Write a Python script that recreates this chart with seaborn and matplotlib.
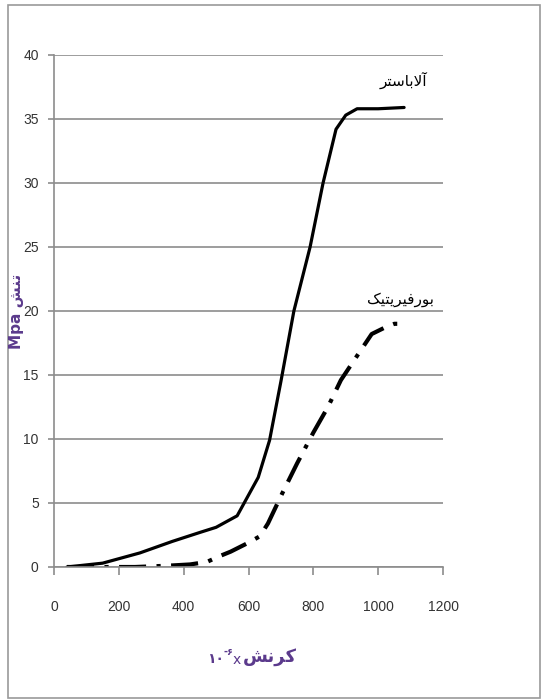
"""
Stress-strain curves for alabaster and porphyritic stone
"""

import numpy as np
import pandas as pd
import matplotlib
matplotlib.use("Agg")
import matplotlib.pyplot as plt
from matplotlib.patches import Rectangle
import seaborn as sns


# Alabaster curve (solid line)
alabaster_strain = [40, 150, 265, 365, 450, 500, 565, 630, 665, 700, 740, 790, 830, 870, 900, 935, 1000, 1080]
alabaster_stress = [0, 0.3, 1.1, 2.0, 2.7, 3.1, 4.0, 7.0, 9.9, 14.5, 20.0, 25.0, 30.0, 34.2, 35.3, 35.8, 35.8, 35.9]

# Porphyritic curve (dash-dot line)
porph_strain = [40, 150, 250, 350, 420, 472, 512, 545, 600, 635, 660, 705, 750, 800, 845, 885, 935, 980, 1020, 1050, 1075]
porph_stress = [0, 0, 0, 0.1, 0.2, 0.4, 0.86, 1.2, 1.9, 2.4, 3.4, 5.8, 8.1, 10.5, 12.5, 14.6, 16.5, 18.2, 18.7, 19.0, 19.0]

x_ticks = [0, 200, 400, 600, 800, 1000, 1200]
y_ticks = [0, 5, 10, 15, 20, 25, 30, 35, 40]

# Arabic text is written in shaped presentation forms, visual order
label_alabaster = "\uFEAE\uFE98\uFEB3\uFE8E\uFE91\uFEFB\uFE81"
label_porph = "\uFB8F\uFEF4\uFE98\uFEF3\uFEAE\uFEF4\uFED3\uFEAD\uFEEE\uFE91"
word_strain = "\uFEB6\uFEE7\uFEAE\uFB90"
word_stress = "\uFEB6\uFEE8\uFE97"

W, H = 542, 700
PURPLE = "#5b3a8c"
GRID = "#8c8c8c"


def px(x, y):
    # pixel position -> figure fraction
    return x / W, 1 - y / H


def main():
    sns.set_style("white")
    plt.rcParams['font.family'] = ['Liberation Sans Narrow', 'Liberation Sans', 'DejaVu Sans']

    fig = plt.figure(figsize=(W / 100, H / 100), dpi=100)
    ax = fig.add_axes([54 / W, 1 - 567 / H, 389 / W, 512 / H])

    # outer frame
    fig.patches.append(Rectangle((8 / W, 2 / H), 532 / W, 693 / H, transform=fig.transFigure,
                                 fill=False, edgecolor="#9a9a9a", linewidth=1.2))

    df_a = pd.DataFrame({'strain': alabaster_strain, 'stress': alabaster_stress})
    df_p = pd.DataFrame({'strain': porph_strain, 'stress': porph_stress})

    sns.lineplot(data=df_a, x='strain', y='stress', ax=ax, color='black', linewidth=2.3)
    sns.lineplot(data=df_p, x='strain', y='stress', ax=ax, color='black', linewidth=3.0,
                 linestyle=(0, (6.5, 2.5, 1, 2.5)))

    ax.set_xlim(0, 1200)
    ax.set_ylim(0, 40)
    ax.set_xticks(x_ticks)
    ax.set_yticks(y_ticks)
    ax.set_xlabel('')
    ax.set_ylabel('')

    ax.grid(axis='y', color=GRID, linewidth=1.2)
    ax.grid(axis='x', visible=False)
    ax.set_axisbelow(True)
    for side in ['top', 'right']:
        ax.spines[side].set_visible(False)
    for side in ['left', 'bottom']:
        ax.spines[side].set_color(GRID)
        ax.spines[side].set_linewidth(1.2)

    ax.tick_params(axis='x', direction='out', length=6, width=1.2, color=GRID, pad=18,
                   labelsize=10, labelcolor='#333333', bottom=True)
    ax.tick_params(axis='y', direction='out', length=4, width=1.2, color=GRID, pad=7,
                   labelsize=10, labelcolor='#333333', left=True)

    # series labels
    ax.text(1077, 38.0, label_alabaster, family='DejaVu Sans', fontsize=11,
            ha='center', va='center', color='black')
    ax.text(1068, 20.9, label_porph, family='DejaVu Sans', fontsize=11,
            ha='center', va='center', color='black')

    # y label
    fig.text(*px(17, 311), "Mpa " + word_stress, family='DejaVu Sans', fontsize=11,
             fontweight='bold', color=PURPLE, rotation=90, ha='center', va='center')

    # x label pieces
    fig.text(*px(243, 657), word_strain, family='DejaVu Sans', fontsize=13,
             fontweight='bold', color=PURPLE, ha='left', va='center')
    fig.text(*px(241, 660), "x", family='DejaVu Sans', fontsize=10,
             color=PURPLE, ha='right', va='center')
    fig.text(*px(233, 652), "-\u06F6", family='DejaVu Sans', fontsize=7,
             fontweight='bold', color=PURPLE, ha='right', va='center')
    fig.text(*px(224, 659), "\u06F1\u06F0", family='DejaVu Sans', fontsize=10,
             fontweight='bold', color=PURPLE, ha='right', va='center')

    fig.savefig('out.png', dpi=100)
    plt.close(fig)


if __name__ == "__main__":
    main()
